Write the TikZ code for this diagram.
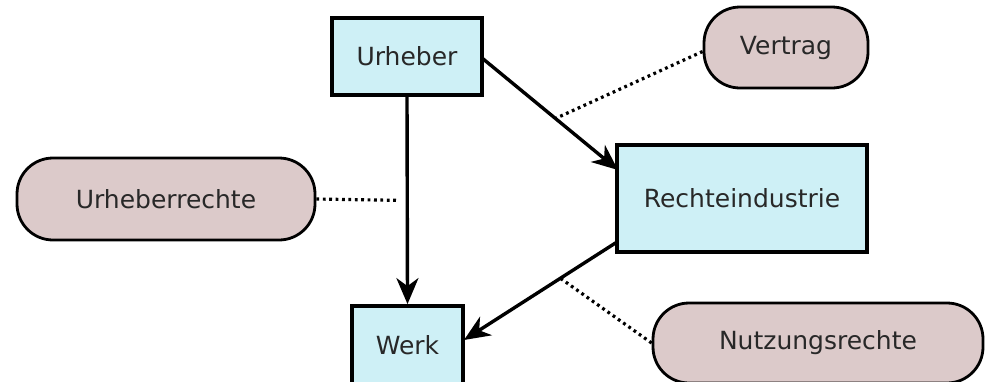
\documentclass[tikz,border=0pt]{standalone}
\usepackage{fontspec}
\setmainfont{DejaVu Sans}
\usetikzlibrary{arrows.meta,calc}
\definecolor{boxfill}{RGB}{206,240,246}
\definecolor{pillfill}{RGB}{220,202,202}
\definecolor{txt}{RGB}{40,40,40}
\begin{document}
\begin{tikzpicture}[x=0.5pt,y=-0.5pt,
  lbl/.style={font=\fontsize{12.5}{15}\selectfont,text=txt,inner sep=0pt},
  box/.style={lbl,draw=black,line width=1.9pt,fill=boxfill},
  pill/.style={lbl,draw=black,line width=1.4pt,fill=pillfill,rounded corners=18pt},
  arr/.style={line width=1.7pt,-{Stealth[length=13pt,width=11pt,inset=4pt]}},
  dots/.style={line width=1.6pt,dash pattern=on 1.4pt off 1.8pt}]
\fill[white] (0,0) rectangle (994,381);
\useasboundingbox (0,0) rectangle (994,381);
\node[box,minimum width=75pt,minimum height=38.5pt] (U) at (407,56.5) {Urheber};
\node[box,minimum width=55.5pt,minimum height=39pt] (W) at (407.5,345) {Werk};
\node[box,minimum width=125pt,minimum height=53.5pt] (R) at (742,198.5) {Rechteindustrie};
\node[pill,minimum width=82pt,minimum height=40.5pt] (V) at (786,47.5) {Vertrag};
\node[pill,minimum width=149pt,minimum height=41pt] (UR) at (166,199) {Urheberrechte};
\node[pill,minimum width=165pt,minimum height=40pt] (N) at (818,343) {Nutzungsrechte};
\coordinate (u1) at (482,58);
\coordinate (r1) at (618,170);
\coordinate (r2) at (617,242);
\coordinate (w1) at (464,340);
\draw[arr] (u1) -- (r1);
\draw[arr] (r2) -- (w1);
\draw[arr] (U.south) -- (W.north);
\coordinate (m1) at ($(u1)!0.54!(r1)$);
\coordinate (m2) at ($(U.south)!0.5!(W.north)$);
\coordinate (m3) at ($(r2)!0.37!(w1)$);
\draw[dots] (V.west) ++(0,4) -- (m1);
\draw[dots,shorten >=4pt] (UR.east) -- (m2);
\draw[dots] (N.west) -- (m3);
\end{tikzpicture}
\end{document}
